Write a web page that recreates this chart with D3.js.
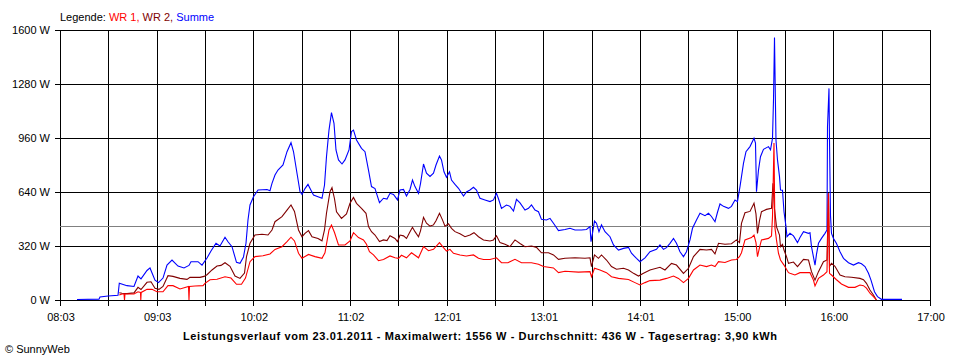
<!DOCTYPE html>
<html><head><meta charset="utf-8">
<script src="https://cdn.jsdelivr.net/npm/d3@7"></script>
<style>
body{margin:0;background:#fff}
svg{display:block}
text{font-family:"Liberation Sans",Arial,sans-serif;font-size:11px}
</style>
</head><body><svg id="c" width="960" height="360"></svg>
<script>
// ---------- data ----------
const legendLabel = "Legende: ";
const seriesNames = ["WR 1", "WR 2", "Summe"];
const seriesColors = ["#ff0000", "#800000", "#0000ff"];
const yTicks = [0, 320, 640, 960, 1280, 1600];
const xStart = "08:03:00";
const xEnd = "17:00:00";
const xGridSteps = 18;
const xTickLabels = ["08:03","09:03","10:02","11:02","12:01","13:01","14:01","15:00","16:00","17:00"];
const averageW = 436;
const titleText = "Leistungsverlauf vom 23.01.2011 - Maximalwert: 1556 W - Durchschnitt: 436 W - Tagesertrag: 3,90 kWh";
const footerText = "\u00A9 SunnyWeb";

const sumTimes = ["08:13:30","08:27:04","08:27:41","08:32:38","08:38:48","08:39:36","08:44:21","08:48:40","08:51:09","08:53:00","08:56:42","08:58:33","09:01:38","09:03:48","09:06:34","09:09:03","09:12:08","09:15:50","09:19:32","09:22:37","09:23:51","09:28:11","09:30:39","09:33:44","09:36:12","09:39:17","09:41:45","09:44:51","09:46:42","09:49:10","09:51:56","09:54:06","09:56:15","09:57:48","09:59:02","10:00:16","10:02:26","10:05:13","10:10:46","10:12:37","10:13:51","10:15:42","10:17:33","10:20:39","10:23:07","10:25:35","10:27:07","10:29:17","10:31:08","10:32:22","10:34:13","10:36:04","10:37:55","10:39:28","10:42:15","10:44:43","10:46:15","10:47:29","10:49:02","10:50:34","10:52:07","10:53:21","10:54:54","10:57:04","10:58:55","11:01:23","11:02:55","11:04:09","11:06:01","11:09:06","11:11:15","11:13:25","11:15:16","11:17:26","11:20:12","11:22:40","11:24:50","11:26:41","11:28:51","11:31:19","11:32:52","11:35:01","11:36:52","11:39:02","11:40:34","11:42:07","11:44:17","11:45:31","11:47:22","11:49:13","11:51:23","11:53:32","11:55:05","11:57:14","11:58:28","12:00:01","12:01:34","12:03:25","12:04:39","12:06:48","12:08:58","12:12:03","12:13:54","12:16:04","12:18:13","12:20:04","12:22:14","12:25:19","12:28:25","12:30:34","12:32:25","12:33:39","12:35:30","12:38:35","12:40:45","12:42:55","12:44:46","12:46:56","12:50:01","12:52:10","12:54:01","12:56:11","12:58:20","13:00:11","13:03:17","13:05:27","13:07:36","13:10:41","13:14:42","13:17:47","13:20:53","13:24:53","13:27:58","13:30:08","13:30:45","13:31:40","13:32:55","13:34:09","13:35:41","13:37:14","13:39:24","13:42:29","13:44:38","13:47:43","13:50:49","13:53:54","13:55:44","13:58:50","14:01:00","14:04:05","14:07:10","14:11:10","14:13:20","14:15:30","14:17:21","14:19:31","14:21:40","14:23:31","14:25:41","14:27:50","14:29:41","14:31:51","14:33:24","14:35:52","14:38:02","14:41:07","14:43:17","14:45:07","14:47:17","14:48:50","14:50:22","14:52:32","14:55:37","14:57:28","14:59:38","15:01:10","15:02:43","15:04:52","15:06:25","15:08:53","15:11:22","15:12:17","15:12:54","15:14:08","15:15:22","15:17:13","15:20:18","15:21:33","15:22:47","15:23:24","15:24:01","15:24:56","15:25:52","15:27:06","15:27:43","15:28:57","15:29:53","15:31:07","15:31:44","15:33:35","15:35:44","15:38:13","15:39:45","15:41:55","15:45:00","15:45:56","15:46:51","15:49:01","15:49:56","15:51:10","15:53:01","15:55:11","15:56:25","15:56:44","15:57:39","15:57:58","15:58:35","15:59:12","16:00:26","16:02:17","16:04:27","16:06:36","16:09:41","16:12:46","16:15:52","16:17:43","16:19:52","16:22:02","16:23:35","16:25:44","16:27:35","16:30:03","16:42:43"];
const sumWatts = [3,5,18,24,28,99,85,80,142,125,175,190,118,103,130,207,237,201,190,205,227,227,207,249,290,336,320,372,345,316,223,217,255,336,474,563,612,652,655,648,691,741,770,800,879,932,880,751,642,625,660,685,650,622,612,603,680,849,1007,1110,1047,889,830,806,830,889,998,1007,948,899,879,770,672,660,577,603,598,632,625,593,652,655,616,655,711,672,632,690,806,751,732,751,800,853,830,760,727,760,711,685,662,616,640,652,668,652,603,593,583,593,632,600,543,563,555,527,597,575,533,543,563,533,523,478,474,484,455,411,418,425,415,415,418,435,346,395,468,455,405,445,405,375,326,296,306,312,277,247,227,250,286,300,326,300,310,336,365,336,286,257,286,356,425,474,514,500,514,495,464,520,569,555,543,555,593,583,672,810,879,909,958,930,642,770,849,893,909,890,958,1185,1556,948,830,731,652,650,523,435,375,395,380,340,370,405,395,398,316,207,270,336,365,395,415,1027,1254,948,500,395,365,335,286,247,221,207,221,215,198,158,118,49,20,4,4];

const wr2Times = ["08:39:36","08:41:16","08:44:21","08:48:40","08:51:09","08:53:00","08:56:42","08:59:10","09:01:38","09:04:06","09:06:34","09:09:39","09:12:44","09:17:04","09:21:23","09:23:14","09:29:24","09:31:53","09:33:44","09:36:49","09:39:54","09:42:22","09:44:51","09:47:56","09:51:01","09:54:06","09:56:53","09:58:07","10:00:16","10:03:21","10:07:41","10:11:23","10:13:51","10:15:42","10:20:01","10:23:07","10:25:35","10:27:44","10:30:13","10:32:22","10:34:13","10:36:23","10:38:33","10:42:15","10:44:43","10:46:15","10:47:29","10:49:39","10:50:53","10:52:26","10:53:40","10:56:45","10:59:50","11:02:00","11:04:09","11:06:01","11:09:06","11:11:52","11:13:25","11:15:16","11:17:26","11:20:12","11:22:40","11:24:50","11:26:41","11:29:46","11:31:19","11:32:52","11:35:01","11:36:52","11:39:02","11:40:34","11:42:07","11:44:17","11:45:31","11:47:22","11:49:13","11:51:23","11:53:32","11:55:05","11:57:14","11:59:05","12:00:38","12:02:47","12:04:39","12:06:48","12:09:53","12:12:59","12:16:04","12:18:32","12:21:19","12:24:24","12:28:25","12:30:34","12:32:25","12:34:35","12:37:40","12:40:45","12:43:50","12:46:56","12:50:01","12:54:01","12:57:06","13:00:11","13:04:31","13:07:36","13:10:41","13:14:42","13:20:53","13:27:03","13:30:08","13:31:03","13:32:55","13:35:22","13:37:14","13:40:19","13:43:24","13:46:29","13:50:49","13:53:54","13:56:59","14:00:04","14:03:09","14:07:10","14:13:20","14:16:25","14:20:26","14:23:31","14:27:50","14:30:56","14:34:01","14:38:02","14:42:02","14:45:07","14:47:17","14:49:27","14:53:27","14:57:28","15:00:33","15:02:24","15:03:38","15:05:48","15:08:53","15:11:22","15:12:35","15:13:31","15:14:45","15:15:59","15:19:04","15:22:10","15:23:05","15:24:01","15:25:14","15:27:06","15:27:43","15:28:57","15:29:53","15:31:25","15:32:39","15:35:44","15:38:13","15:41:55","15:45:00","15:46:51","15:49:01","15:51:10","15:54:14","15:56:25","15:57:20","15:57:58","15:59:12","16:01:20","16:04:27","16:07:31","16:11:32","16:16:47","16:18:56","16:20:47","16:22:57","16:25:05","16:26:56"];
const wr2Watts = [43,40,38,42,75,62,105,108,70,63,80,144,140,128,122,134,134,140,150,178,201,205,221,200,142,128,160,257,336,385,390,385,415,464,494,533,563,525,415,375,395,411,375,365,351,415,514,642,666,600,523,484,510,573,608,573,543,514,435,405,385,346,356,352,381,365,346,385,380,365,405,431,405,375,410,490,455,438,445,470,514,475,438,452,425,405,392,375,385,399,375,356,350,356,381,340,330,316,356,335,316,320,312,280,280,267,241,247,250,247,250,198,267,247,267,237,198,182,188,178,158,142,158,178,194,178,217,207,158,188,257,300,296,300,273,336,330,333,356,340,454,517,525,573,510,395,470,523,537,543,691,540,435,385,316,330,296,257,217,225,198,241,237,168,118,168,227,237,632,200,217,200,148,138,135,128,120,99,59,30,0];

const wr1Times = ["08:39:36","08:41:16","08:42:30","08:42:49","08:43:07","08:48:40","08:51:09","08:52:41","08:52:52","08:53:07","08:56:42","08:59:47","09:02:52","09:06:34","09:09:39","09:12:44","09:17:04","09:22:19","09:22:37","09:22:56","09:26:19","09:31:16","09:32:30","09:35:35","09:39:54","09:44:51","09:48:32","09:51:56","09:55:01","09:57:29","10:00:16","10:03:21","10:08:17","10:12:37","10:15:42","10:20:01","10:23:07","10:25:35","10:27:44","10:30:13","10:32:22","10:36:23","10:40:23","10:44:43","10:46:33","10:49:02","10:50:34","10:52:26","10:54:54","10:58:55","11:02:00","11:04:09","11:07:14","11:10:20","11:12:11","11:14:01","11:16:30","11:19:35","11:22:40","11:26:41","11:29:46","11:31:56","11:33:47","11:36:52","11:39:57","11:42:07","11:44:17","11:47:22","11:50:27","11:53:32","11:57:14","11:59:42","12:01:34","12:03:43","12:05:53","12:09:53","12:13:54","12:18:13","12:21:19","12:24:24","12:28:25","12:32:25","12:35:30","12:39:30","12:43:50","12:47:51","12:54:01","12:58:20","13:01:25","13:07:36","13:10:41","13:14:42","13:23:01","13:30:08","13:31:03","13:32:55","13:36:18","13:40:19","13:43:24","13:47:43","13:53:54","13:57:54","14:01:00","14:04:05","14:07:10","14:13:20","14:17:21","14:21:40","14:24:45","14:27:50","14:30:56","14:34:01","14:38:02","14:42:02","14:45:07","14:47:17","14:49:27","14:53:27","14:57:28","15:00:33","15:02:24","15:03:38","15:05:48","15:09:48","15:11:22","15:12:35","15:13:31","15:14:45","15:15:59","15:20:18","15:22:10","15:22:47","15:23:42","15:24:16","15:25:14","15:26:29","15:27:43","15:29:53","15:32:39","15:33:35","15:36:37","15:39:45","15:45:56","15:48:03","15:49:01","15:51:10","15:54:14","15:56:25","15:57:20","15:57:58","15:59:12","16:02:17","16:05:20","16:09:41","16:13:41","16:16:47","16:18:56","16:20:47","16:22:57","16:25:05","16:26:56"];
const wr1Watts = [30,36,36,0,36,36,49,45,0,45,63,63,49,49,85,85,65,80,0,80,83,85,99,120,123,138,130,93,93,130,227,257,262,273,300,316,346,372,350,277,247,270,257,247,280,415,444,400,326,326,350,399,370,356,330,286,267,233,240,261,250,247,265,250,280,265,250,316,292,300,340,310,290,300,277,267,261,267,247,240,240,250,221,221,241,221,221,212,198,190,162,170,165,168,138,188,178,162,138,128,122,103,89,103,115,118,128,142,128,103,128,178,207,198,207,198,227,222,237,240,257,280,356,370,385,340,257,310,356,365,380,494,930,430,356,277,237,207,162,158,148,162,162,118,83,128,148,168,632,158,148,120,95,75,75,89,85,70,40,20,0];

// ---------- chart ----------
const W = 960, H = 360;
const plot = {left: 60, right: 930, top: 30, bottom: 300};
const svg = d3.select("#c");
const toSec = s => { const p = s.split(":").map(Number); return p[0]*3600 + p[1]*60 + (p[2]||0); };

const x = d3.scaleLinear().domain([toSec(xStart), toSec(xEnd)]).range([plot.left, plot.right]);
const y = d3.scaleLinear().domain([0, 1600]).range([plot.bottom, plot.top]);
const px = v => Math.round(v) + 0.5;

const gridTimes = d3.range(xGridSteps + 1).map(k => toSec(xStart) + k * (toSec(xEnd) - toSec(xStart)) / xGridSteps);

// horizontal grid + y labels
const gy = svg.append("g");
gy.selectAll("line").data(yTicks).join("line")
  .attr("x1", plot.left - 5).attr("x2", plot.right)
  .attr("y1", d => px(y(d))).attr("y2", d => px(y(d)))
  .attr("stroke", "#000").attr("stroke-width", 1).attr("shape-rendering", "crispEdges");
gy.selectAll("text").data(yTicks).join("text")
  .attr("x", plot.left - 10).attr("y", d => y(d) + 4)
  .attr("text-anchor", "end").attr("fill", "#000")
  .text(d => d + " W");

// vertical grid + ticks
const gx = svg.append("g");
gx.selectAll("line").data(gridTimes).join("line")
  .attr("x1", d => px(x(d))).attr("x2", d => px(x(d)))
  .attr("y1", plot.top).attr("y2", plot.bottom + 6)
  .attr("stroke", "#000").attr("stroke-width", 1).attr("shape-rendering", "crispEdges");
gx.selectAll("text").data(xTickLabels).join("text")
  .attr("x", (d, i) => x(gridTimes[i * 2]) + 1)
  .attr("y", plot.bottom + 21)
  .attr("text-anchor", "middle").attr("fill", "#000")
  .text(d => d);

// average line
svg.append("line")
  .attr("x1", plot.left).attr("x2", plot.right)
  .attr("y1", px(y(averageW))).attr("y2", px(y(averageW)))
  .attr("stroke", "#808080").attr("stroke-width", 1).attr("shape-rendering", "crispEdges");

// series
const line = d3.line().x(d => x(d[0])).y(d => y(d[1]));
const series = [
  {times: sumTimes, watts: sumWatts, color: seriesColors[2]},
  {times: wr2Times, watts: wr2Watts, color: seriesColors[1]},
  {times: wr1Times, watts: wr1Watts, color: seriesColors[0]}
];
series.forEach(s => {
  const pts = s.times.map((t, i) => [toSec(t), s.watts[i]]);
  svg.append("path").datum(pts)
    .attr("d", line).attr("fill", "none")
    .attr("stroke", s.color).attr("stroke-width", 1.1)
    .attr("stroke-linejoin", "miter");
});

// legend
const lg = svg.append("text").attr("x", plot.left).attr("y", 21);
lg.append("tspan").attr("fill", "#000").text(legendLabel);
seriesNames.forEach((n, i) => {
  lg.append("tspan").attr("fill", seriesColors[i]).text(n + (i < seriesNames.length - 1 ? ", " : ""));
});

// title & footer
svg.append("text").attr("x", W / 2).attr("y", 340)
  .attr("text-anchor", "middle").attr("font-weight", "bold").attr("fill", "#000")
  .attr("textLength", 594).attr("lengthAdjust", "spacing")
  .text(titleText);
svg.append("text").attr("x", 5).attr("y", 353).attr("fill", "#000").text(footerText);
</script>
</body></html>
